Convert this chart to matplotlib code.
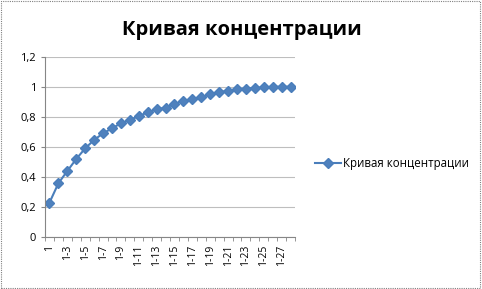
import matplotlib
matplotlib.use("Agg")
import matplotlib.pyplot as plt
import numpy as np

plt.rcParams['font.family'] = ['Open Sans', 'DejaVu Sans']

# categories 1, 1-2, ... 1-28
categories = ["1"] + ["1-%d" % i for i in range(2, 29)]
values = [0.227, 0.356, 0.438, 0.518, 0.589, 0.645, 0.689, 0.722, 0.756, 0.778,
          0.804, 0.829, 0.849, 0.86, 0.885, 0.905, 0.918, 0.929, 0.949, 0.963,
          0.973, 0.983, 0.987, 0.991, 0.996, 1.0, 1.0, 1.0]
series_name = "Кривая концентрации"
yticks = [0, 0.2, 0.4, 0.6, 0.8, 1.0, 1.2]
ytick_labels = ["0", "0,2", "0,4", "0,6", "0,8", "1", "1,2"]

fig = plt.figure(figsize=(4.82, 2.89), dpi=100)
ax = fig.add_axes([45/482, 1 - 236.7/289, 250/482, 180/289])

x = np.arange(len(categories))
ax.plot(x, values, color="#4A7EBB", lw=1.5, marker="D", markersize=5,
        markerfacecolor="#4F81BD", markeredgecolor="#4A7EBB", label=series_name)

ax.set_xlim(-0.5, len(categories) - 0.5)
ax.set_ylim(0, 1.2)
ax.set_yticks(yticks)
ax.set_yticklabels(ytick_labels, fontsize=8)
ax.yaxis.grid(True, color="#BEBEBE", lw=0.8)
ax.set_axisbelow(True)

ax.set_xticks(x[::2])
ax.set_xticklabels(categories[::2], rotation=90, fontsize=7.5)
ax.set_xticks(np.arange(-0.5, len(categories)), minor=True)
ax.tick_params(axis="x", which="major", length=0, pad=6)
ax.tick_params(axis="x", which="minor", length=3, color="#868686")
ax.tick_params(axis="y", length=3, color="#868686")

for s in ["top", "right"]:
    ax.spines[s].set_visible(False)
ax.spines["left"].set_color("#868686")
ax.spines["bottom"].set_color("#868686")

fig.text(242/482, 1 - 30/289, series_name, ha="center", va="center",
         fontsize=14.5, fontweight="bold")

fig.legend(loc="center left", bbox_to_anchor=(305/482, 1 - 164/289), frameon=False,
           fontsize=8.3, handlelength=2.2, handletextpad=0.2)

# dotted chart border
border = plt.Rectangle((0.002, 0.003), 0.994, 0.992, transform=fig.transFigure,
                       fill=False, ls=(0, (1, 1)), lw=0.8, ec="#808080")
fig.patches.append(border)

fig.savefig("out.png", dpi=100)
